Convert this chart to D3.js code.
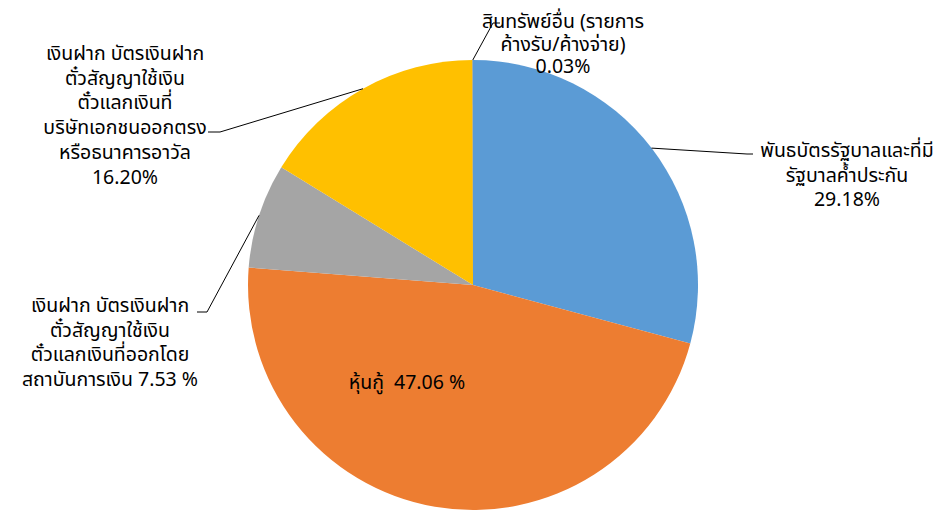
<!DOCTYPE html>
<html><head><meta charset="utf-8">
<script src="https://cdn.jsdelivr.net/npm/d3@7/dist/d3.min.js"></script>
<style>body{margin:0;background:#fff}svg{display:block}text{font-family:Tahoma,"Noto Sans Thai","Noto Sans","DejaVu Sans",sans-serif;font-size:19.5px;fill:#000}</style>
</head><body><svg id="c" width="944" height="510"></svg>
<script>
const categories = ["พันธบัตรรัฐบาลและที่มีรัฐบาลค้ำประกัน","หุ้นกู้","เงินฝาก บัตรเงินฝาก ตั๋วสัญญาใช้เงิน ตั๋วแลกเงินที่ออกโดยสถาบันการเงิน","เงินฝาก บัตรเงินฝาก ตั๋วสัญญาใช้เงิน ตั๋วแลกเงินที่บริษัทเอกชนออกตรงหรือธนาคารอาวัล","สินทรัพย์อื่น (รายการค้างรับ/ค้างจ่าย)"];
const values = [29.18, 47.06, 7.53, 16.20, 0.03];
const colors = ["#5B9BD5","#ED7D31","#A5A5A5","#FFC000","#4472C4"];
const labelLines = [
  ["พันธบัตรรัฐบาลและที่มี","รัฐบาลค้ำประกัน","29.18%"],
  ["หุ้นกู้\u00a0\u00a047.06 %"],
  ["เงินฝาก บัตรเงินฝาก","ตั๋วสัญญาใช้เงิน","ตั๋วแลกเงินที่ออกโดย","สถาบันการเงิน 7.53 %"],
  ["เงินฝาก บัตรเงินฝาก","ตั๋วสัญญาใช้เงิน","ตั๋วแลกเงินที่","บริษัทเอกชนออกตรง","หรือธนาคารอาวัล","16.20%"],
  ["สินทรัพย์อื่น (รายการ","ค้างรับ/ค้างจ่าย)","0.03%"]
];
// label layout: [textCenterX, firstBaselineY, lineHeight, leader elbow x, elbow y, leader end x]
const labelPos = [
  [847, 157, 24.5, 747, 154, 753],
  [407, 389, 24, null, null, null],
  [110, 312, 24.7, 207, 312, 197],
  [125, 60, 24.7, 220, 132, 208],
  [563, 28, 22.5, 493, 23, 500]
];
const svg = d3.select("#c");
const cx = 473, cy = 285, r = 225;
const g = svg.append("g").attr("transform", `translate(${cx},${cy})`);
const pie = d3.pie().sort(null).value(d => d)(values);
const arc = d3.arc().innerRadius(0).outerRadius(r);
g.selectAll("path").data(pie).join("path").attr("d", arc).attr("fill", (d,i) => colors[i]);
const edge = d3.arc().innerRadius(r).outerRadius(r);
pie.forEach((d,i) => {
  const p = labelPos[i];
  if (p[3] !== null) {
    const [ex, ey] = edge.centroid(d);
    svg.append("polyline")
      .attr("points", `${cx+ex},${cy+ey} ${p[3]},${p[4]} ${p[5]},${p[4]}`)
      .attr("fill","none").attr("stroke","#000").attr("stroke-width",1);
  }
  const t = svg.append("text").attr("text-anchor","middle");
  labelLines[i].forEach((s,k) => {
    t.append("tspan").attr("x", p[0]).attr("y", p[1] + k*p[2]).text(s);
  });
});
</script></body></html>
